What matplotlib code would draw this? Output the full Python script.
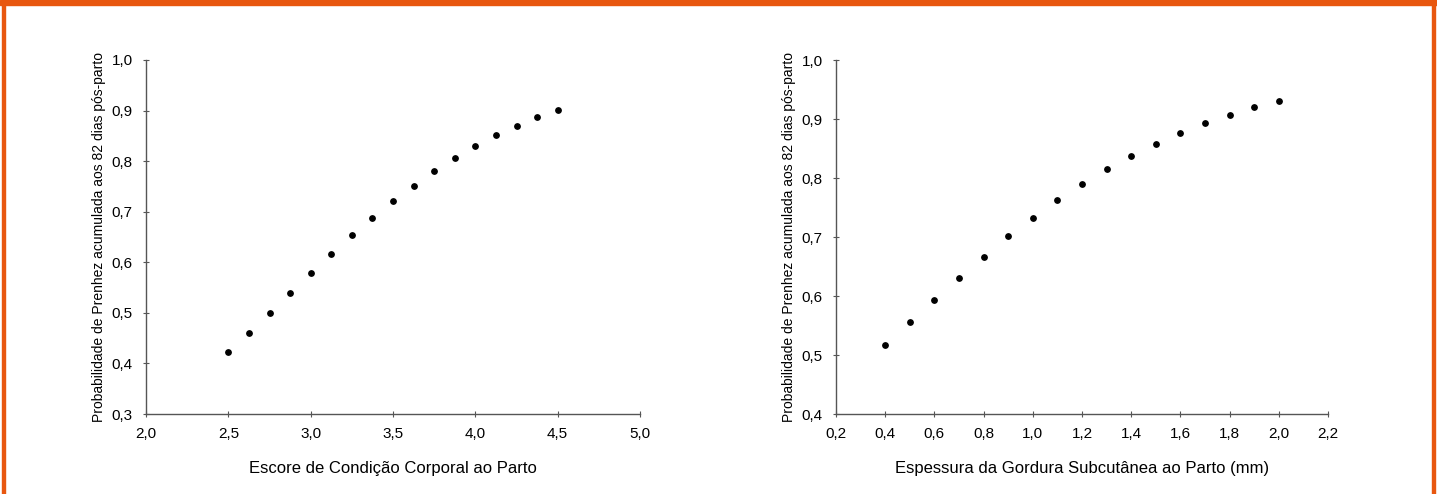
import matplotlib.pyplot as plt
from matplotlib.patches import Rectangle
from matplotlib.ticker import FuncFormatter
import numpy as np

# left panel: body condition score
ecc_x = [2.5, 2.625, 2.75, 2.875, 3.0, 3.125, 3.25, 3.375, 3.5, 3.625,
         3.75, 3.875, 4.0, 4.125, 4.25, 4.375, 4.5]
ecc_y = [0.422, 0.461, 0.500, 0.539, 0.578, 0.616, 0.653, 0.688, 0.721,
         0.751, 0.780, 0.806, 0.830, 0.851, 0.870, 0.887, 0.902]

# right panel: subcutaneous fat thickness
egs_x = [0.4, 0.5, 0.6, 0.7, 0.8, 0.9, 1.0, 1.1, 1.2, 1.3, 1.4, 1.5, 1.6,
         1.7, 1.8, 1.9, 2.0]
egs_y = [0.517, 0.556, 0.594, 0.631, 0.666, 0.701, 0.733, 0.763, 0.790,
         0.815, 0.838, 0.858, 0.877, 0.893, 0.907, 0.920, 0.931]

ylabel = 'Probabilidade de Prenhez acumulada aos 82 dias pós-parto'
xlabel_left = 'Escore de Condição Corporal ao Parto'
xlabel_right = 'Espessura da Gordura Subcutânea ao Parto (mm)'

plt.rcParams['font.family'] = ['Liberation Sans Narrow', 'Liberation Sans', 'DejaVu Sans']

orange = '#E8570F'
fig = plt.figure(figsize=(14.37, 4.94), dpi=100)

# orange frame
fig.patches.append(Rectangle((0, 1 - 5 / 494), 1, 5 / 494, transform=fig.transFigure,
                             color=orange, zorder=0))
fig.patches.append(Rectangle((2 / 1437, 0), 2.5 / 1437, 1, transform=fig.transFigure,
                             color=orange, zorder=0))
fig.patches.append(Rectangle((1432 / 1437, 0), 2.5 / 1437, 1, transform=fig.transFigure,
                             color=orange, zorder=0))

comma = FuncFormatter(lambda v, p: ('%.1f' % v).replace('.', ','))


def panel(rect, x, y, xlim, xticks, ylim, yticks, xlabel):
    ax = fig.add_axes(rect)
    ax.scatter(x, y, s=15, color='black', zorder=3)
    ax.set_xlim(xlim)
    ax.set_ylim(ylim)
    ax.set_xticks(xticks)
    ax.set_yticks(yticks)
    ax.xaxis.set_major_formatter(comma)
    ax.yaxis.set_major_formatter(comma)
    for s in ['top', 'right']:
        ax.spines[s].set_visible(False)
    for s in ['left', 'bottom']:
        ax.spines[s].set_color('#555555')
        ax.spines[s].set_linewidth(1.0)
    ax.tick_params(direction='inout', length=5, width=0.8, color='#555555',
                   labelsize=11, pad=7)
    ax.set_xlabel(xlabel, fontsize=12, labelpad=14)
    ax.set_ylabel(ylabel, fontsize=10, labelpad=4)
    return ax


panel([146 / 1437, 1 - 414 / 494, 494 / 1437, 354 / 494], ecc_x, ecc_y,
      (2.0, 5.0), np.arange(2.0, 5.01, 0.5), (0.3, 1.0), np.arange(0.3, 1.01, 0.1),
      xlabel_left)
panel([836 / 1437, 1 - 414 / 494, 492 / 1437, 354 / 494], egs_x, egs_y,
      (0.2, 2.2), np.arange(0.2, 2.21, 0.2), (0.4, 1.0), np.arange(0.4, 1.01, 0.1),
      xlabel_right)

fig.savefig('out.png', dpi=100)
